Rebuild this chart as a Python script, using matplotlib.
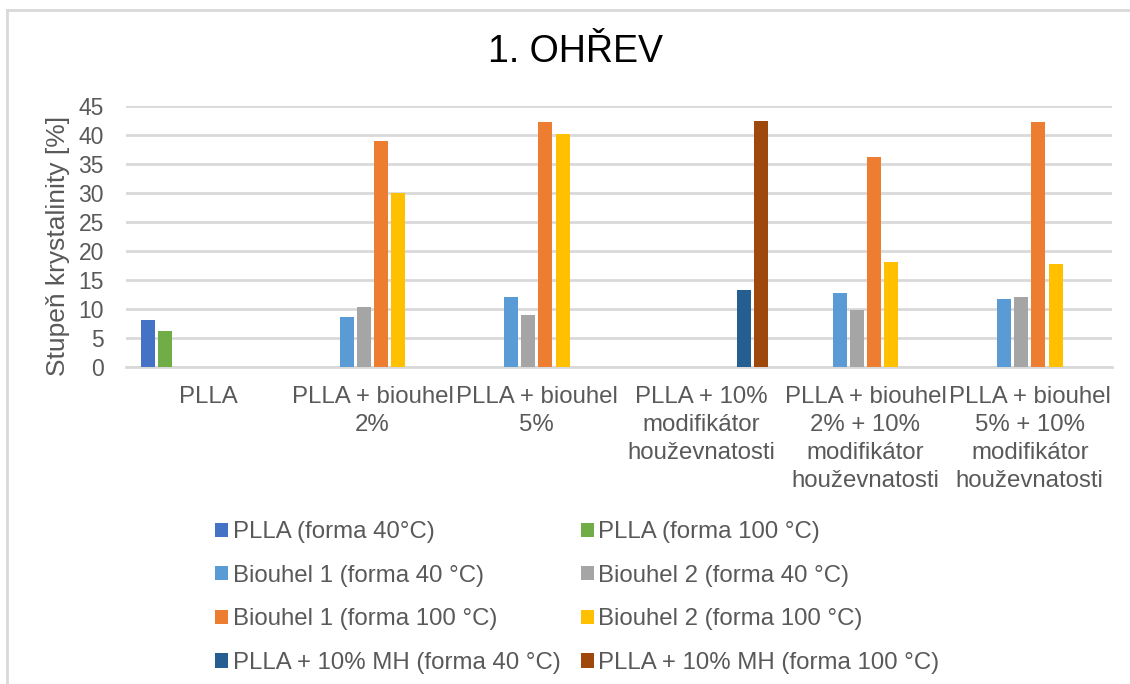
import matplotlib.pyplot as plt
import numpy as np
from matplotlib.lines import Line2D

plt.rcParams['font.family'] = ['Liberation Sans', 'DejaVu Sans']

kategorie = ["PLLA",
             "PLLA + biouhel\n2%",
             "PLLA + biouhel\n5%",
             "PLLA + 10%\nmodifikátor\nhouževnatosti",
             "PLLA + biouhel\n2% + 10%\nmodifikátor\nhouževnatosti",
             "PLLA + biouhel\n5% + 10%\nmodifikátor\nhouževnatosti"]

nan = np.nan
plla_40 = [8.1, nan, nan, nan, nan, nan]
plla_100 = [6.2, nan, nan, nan, nan, nan]
biouhel1_40 = [nan, 8.7, 12.0, nan, 12.7, 11.8]
biouhel2_40 = [nan, 10.3, 9.0, nan, 9.8, 12.1]
biouhel1_100 = [nan, 39.0, 42.3, nan, 36.2, 42.2]
biouhel2_100 = [nan, 30.0, 40.2, nan, 18.1, 17.7]
mh_40 = [nan, nan, nan, 13.2, nan, nan]
mh_100 = [nan, nan, nan, 42.4, nan, nan]

serie = [
    ("PLLA (forma 40°C)", plla_40, "#4472c4"),
    ("PLLA (forma 100 °C)", plla_100, "#70ad47"),
    ("Biouhel 1 (forma 40 °C)", biouhel1_40, "#5b9bd5"),
    ("Biouhel 2 (forma 40 °C)", biouhel2_40, "#a5a5a5"),
    ("Biouhel 1 (forma 100 °C)", biouhel1_100, "#ed7d31"),
    ("Biouhel 2 (forma 100 °C)", biouhel2_100, "#ffc000"),
    ("PLLA + 10% MH (forma 40 °C)", mh_40, "#255e91"),
    ("PLLA + 10% MH (forma 100 °C)", mh_100, "#9e480e"),
]

text_barva = "#595959"
mrizka = "#d9d9d9"

fig = plt.figure(figsize=(11.3, 6.84), dpi=100)
ax = fig.add_axes([0.1115, 0.4635, 0.8725, 0.3815])

x = np.arange(len(kategorie))
krok = 0.1045
sirka = 0.085
handles = []
for i, (nazev, hodnoty, barva) in enumerate(serie):
    b = ax.bar(x + (i - 3.5) * krok, hodnoty, width=sirka, color=barva, label=nazev, zorder=3)
    handles.append(b)

ax.set_xlim(-0.5, len(kategorie) - 0.5)
ax.set_ylim(0, 45)
ax.set_yticks(range(0, 46, 5))
ax.yaxis.grid(True, color=mrizka, linewidth=2, zorder=0)
ax.set_axisbelow(True)
for s in ["top", "right", "left"]:
    ax.spines[s].set_visible(False)
ax.spines["bottom"].set_color(mrizka)
ax.spines["bottom"].set_linewidth(2)
ax.tick_params(axis="y", length=0, labelsize=16.5, colors=text_barva, pad=16)
ax.tick_params(axis="x", length=0, colors=text_barva, pad=14)
ax.set_xticks(x)
ax.set_xticklabels(kategorie, fontsize=17.3, color=text_barva, linespacing=1.35)
ax.set_ylabel("Stupeň krystalinity [%]", fontsize=19, color=text_barva)
ax.yaxis.set_label_coords(-0.057, 0.464)

fig.text(0.509, 0.924, "1. OHŘEV", fontsize=27, color="black", ha="center", va="center")

# legenda po radcich (matplotlib plni po sloupcich)
poradi = [0, 2, 4, 6, 1, 3, 5, 7]
leg = fig.legend([handles[i] for i in poradi], [serie[i][0] for i in poradi],
                 ncol=2, loc="upper left", bbox_to_anchor=(0.1904, 0.238),
                 frameon=False, fontsize=17.3, handlelength=0.54, handleheight=0.54,
                 handletextpad=0.2, labelspacing=0.9, columnspacing=0.83,
                 borderpad=0, borderaxespad=0)
for t in leg.get_texts():
    t.set_color(text_barva)

# ramecek grafu
fig.add_artist(Line2D([0.0065, 0.0065], [0, 0.986], transform=fig.transFigure, color=mrizka, linewidth=2))
fig.add_artist(Line2D([0.0065, 1], [0.986, 0.986], transform=fig.transFigure, color=mrizka, linewidth=2))

fig.savefig("out.png", dpi=100)
